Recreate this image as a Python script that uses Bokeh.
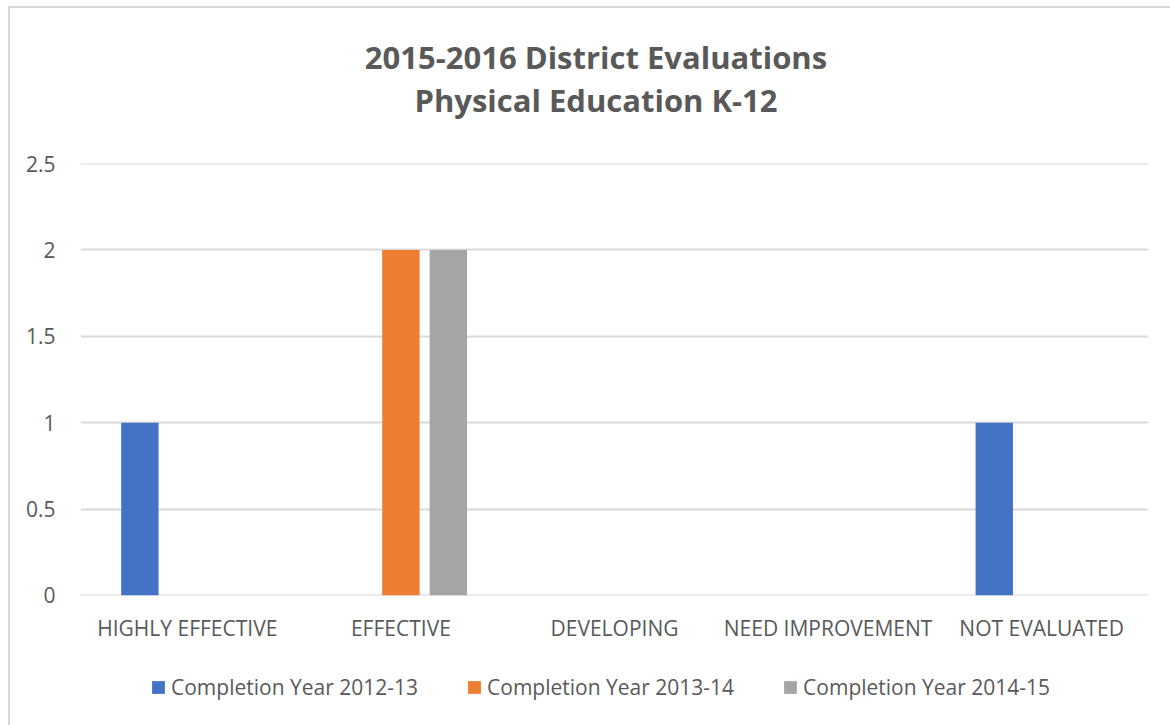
from bokeh.plotting import figure
from bokeh.layouts import column
from bokeh.models import (ColumnDataSource, FactorRange, Range1d, FixedTicker,
                          Div, Legend, LegendItem)
from bokeh.transform import dodge
from bokeh.embed import file_html
from bokeh.resources import INLINE

categories = ["HIGHLY EFFECTIVE", "EFFECTIVE", "DEVELOPING", "NEED IMPROVEMENT", "NOT EVALUATED"]
series_names = ["Completion Year 2012-13", "Completion Year 2013-14", "Completion Year 2014-15"]
values_2012_13 = [1, 0, 0, 0, 1]
values_2013_14 = [0, 2, 0, 0, 0]
values_2014_15 = [0, 2, 0, 0, 0]
colors = ["#4472C4", "#ED7D31", "#A5A5A5"]
y_ticks = [0, 0.5, 1, 1.5, 2, 2.5]
y_tick_labels = ["0", "0.5", "1", "1.5", "2", "2.5"]
title_lines = ["2015-2016 District Evaluations", "Physical Education K-12"]

FONT = "Open Sans"
TEXT = "#595959"
BORDER = "2px solid #d9d9d9"

source = ColumnDataSource(dict(cat=categories, s1=values_2012_13, s2=values_2013_14, s3=values_2014_15))
offsets = [-0.222, 0.0, 0.222]
fields = ["s1", "s2", "s3"]

# ---------------- title ----------------
title_html = (
    '<div style="position:relative; left:6px; width:1160px; padding-top:28px; '
    'text-align:center; font-family:\'Open Sans\'; font-weight:bold; font-size:31px; '
    'line-height:43px; color:%s; white-space:nowrap;">%s<br>%s</div>'
    % (TEXT, title_lines[0], title_lines[1])
)
title_div = Div(text=title_html, width=1160, height=140, margin=0, styles={"background": "white"})

# ---------------- main chart ----------------
p = figure(width=1160, height=500, output_backend="svg", toolbar_location=None,
           x_range=FactorRange(factors=categories), y_range=Range1d(-0.0001, 2.5001),
           min_border_left=70, min_border_right=22, min_border_top=15, min_border_bottom=53)
p.outline_line_color = None
p.background_fill_color = "white"
p.border_fill_color = "white"

for f, off, c in zip(fields, offsets, colors):
    p.vbar(x=dodge("cat", off, range=p.x_range), top=f, width=0.175, source=source,
           fill_color=c, line_color=None)

p.xgrid.grid_line_color = None
p.ygrid.grid_line_color = "#d9d9d9"
p.ygrid.grid_line_width = 2
p.ygrid.level = "underlay"

p.yaxis.ticker = FixedTicker(ticks=y_ticks)
p.yaxis.major_label_overrides = {t: l for t, l in zip(y_ticks, y_tick_labels)}
p.yaxis.axis_line_color = None
p.yaxis.major_tick_line_color = None
p.yaxis.minor_tick_line_color = None
p.yaxis.major_tick_out = 0
p.yaxis.major_label_standoff = 25
p.yaxis.major_label_text_font = FONT
p.yaxis.major_label_text_font_size = "21px"
p.yaxis.major_label_text_color = TEXT

p.xaxis.axis_line_color = None
p.xaxis.major_tick_line_color = None
p.xaxis.major_tick_out = 0
p.xaxis.major_label_standoff = 18
p.xaxis.major_label_text_font = FONT
p.xaxis.major_label_text_font_size = "21px"
p.xaxis.major_label_text_color = TEXT

# ---------------- legend strip ----------------
lf = figure(width=1160, height=77, output_backend="svg", toolbar_location=None,
            x_range=FactorRange(factors=categories), y_range=Range1d(10, 11),
            x_axis_location=None, y_axis_location=None, min_border=0)
lf.outline_line_color = None
lf.background_fill_color = "white"
lf.border_fill_color = "white"
lf.grid.visible = False

renderers = []
for f, off, c in zip(fields, offsets, colors):
    r = lf.vbar(x=dodge("cat", off, range=lf.x_range), top=f, width=0.175, source=source,
                fill_color=c, line_color=None)
    renderers.append(r)

legend = Legend(items=[LegendItem(label=n, renderers=[r]) for n, r in zip(series_names, renderers)],
                orientation="horizontal", location=(70, 24), padding=0, margin=0,
                spacing=48, label_standoff=5, glyph_width=16, glyph_height=16,
                label_height=20, label_text_font=FONT, label_text_font_size="21px",
                label_text_color=TEXT, border_line_color=None, background_fill_alpha=0)
lf.add_layout(legend, "center")

layout = column(title_div, p, lf, spacing=0,
                styles={"border-left": BORDER, "border-top": BORDER,
                        "margin-left": "8px", "margin-top": "6px"})
open("out.html", "w").write(file_html(layout, INLINE))
